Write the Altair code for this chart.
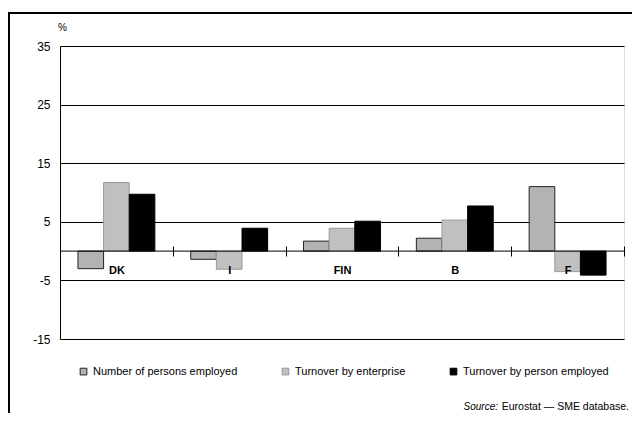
import altair as alt
import pandas as pd

countries = ["DK", "I", "FIN", "B", "F"]
series = ["Number of persons employed", "Turnover by enterprise", "Turnover by person employed"]
persons = [-3.0, -1.4, 1.7, 2.2, 11.0]
turnover_ent = [11.7, -3.1, 3.9, 5.3, -3.5]
turnover_person = [9.7, 3.9, 5.1, 7.7, -4.1]
y_ticks = [35, 25, 15, 5, -5, -15]

rows = []
for i, c in enumerate(countries):
    for s, vals in zip(series, [persons, turnover_ent, turnover_person]):
        rows.append({"country": c, "series": s, "value": vals[i]})
df = pd.DataFrame(rows)

W, H = 564, 293
fills = ["#b3b3b3", "#c0c0c0", "#000000"]
strokes = ["#222222", "#9a9a9a", "#000000"]
FONT = "Liberation Sans"

legend_cfg = dict(title=None, orient="none", legendX=18, legendY=320,
                  direction="horizontal", columns=3, columnPadding=42,
                  symbolType="square", symbolSize=45,
                  symbolStrokeWidth=1, labelOffset=4,
                  labelFontSize=11, labelFont=FONT,
                  labelColor="#000", padding=0)

bars = alt.Chart(df).mark_bar(strokeWidth=1).encode(
    x=alt.X("country:N", sort=countries,
            scale=alt.Scale(paddingInner=0, paddingOuter=0),
            axis=alt.Axis(title=None, orient="bottom", offset=-93, domain=False,
                          tickBand="extent", tickSize=10, tickColor="#000",
                          labelAngle=0, labelFontWeight="bold", labelFontSize=11,
                          labelColor="#000", labelPadding=8, labelFont=FONT,
                          zindex=1)),
    xOffset=alt.XOffset("series:N", sort=series,
                        scale=alt.Scale(paddingOuter=0.7, paddingInner=0)),
    y=alt.Y("value:Q", scale=alt.Scale(domain=[-15, 35], nice=False, zero=False),
            axis=alt.Axis(values=y_ticks, grid=True, gridColor="#000", gridOpacity=1,
                          gridWidth=1, domainColor="#000", tickSize=0, labelPadding=10,
                          labelExpr="datum.value + ''",
                          labelFontSize=12, labelColor="#000", labelFont=FONT,
                          title="%", titleAngle=0, titleX=2, titleY=-19,
                          titleAlign="center", titleBaseline="middle",
                          titleFontSize=10, titleFontWeight="normal",
                          titleFont=FONT, titleColor="#000")),
    color=alt.Color("series:N", sort=series,
                    scale=alt.Scale(domain=series, range=fills),
                    legend=alt.Legend(**legend_cfg)),
    stroke=alt.Stroke("series:N", sort=series,
                      scale=alt.Scale(domain=series, range=strokes),
                      legend=alt.Legend(**legend_cfg)),
)

zero = alt.Chart(pd.DataFrame({"v": [0]})).mark_rule(color="#000", strokeWidth=1).encode(y="v:Q")

dummy = pd.DataFrame({"a": [0]})
frame_top = alt.Chart(dummy).mark_rule(color="#000", strokeWidth=2).encode(
    x=alt.value(-51), x2=alt.value(640), y=alt.value(-33))
frame_left = alt.Chart(dummy).mark_rule(color="#000", strokeWidth=2).encode(
    x=alt.value(-51), y=alt.value(-34), y2=alt.value(420))

src_italic = alt.Chart(dummy).mark_text(
    text="Source:", fontStyle="italic", fontSize=10, font=FONT,
    align="right", baseline="middle", color="#000").encode(
    x=alt.value(438), y=alt.value(361))
src_rest = alt.Chart(dummy).mark_text(
    text="Eurostat \u2014 SME database.", fontSize=10.5, font=FONT,
    align="right", baseline="middle", color="#000").encode(
    x=alt.value(569), y=alt.value(361))

chart = alt.layer(bars, zero, frame_top, frame_left, src_italic, src_rest).properties(
    width=W, height=H,
    autosize=alt.AutoSizeParams(type="none"),
    padding={"left": 52, "top": 38, "right": 8, "bottom": 74},
).configure_view(stroke=None).configure(background="white")

chart.save("out.html", embed_options={"renderer": "svg", "actions": False})
